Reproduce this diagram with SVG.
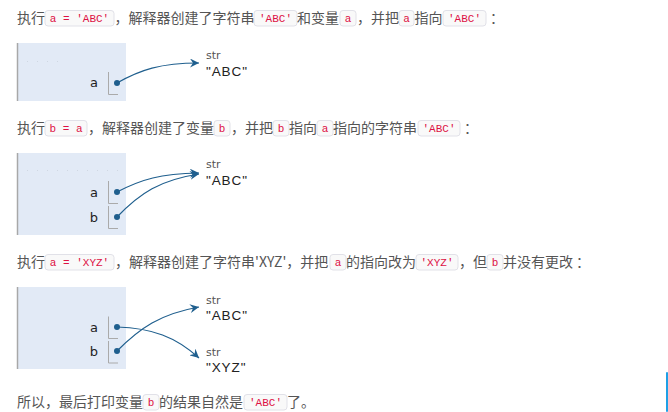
<svg xmlns="http://www.w3.org/2000/svg" width="668" height="412" viewBox="0 0 668 412">
<style>
.t{font-family:"Noto Sans CJK SC","Noto Sans",sans-serif;font-size:14px;fill:#555}
.cb{fill:#f9f9f9;stroke:#e1e1e8;stroke-width:1}
.c{font-family:"Liberation Mono",monospace;font-size:11px;fill:#dd1144;text-anchor:middle}
.panel{fill:#e2eaf6}
.pl{stroke:#a8a8a8;stroke-width:1.5}
.dots{stroke:#cfd7e2;stroke-width:1;stroke-dasharray:1 9}
.br{fill:none;stroke:#aaaaaa;stroke-width:1}
.lbl{font-family:"DejaVu Sans",sans-serif;font-size:13px;fill:#222;text-anchor:end}
.typ{font-family:"DejaVu Sans",sans-serif;font-size:11px;fill:#555}
.val{font-family:"Liberation Sans",Arial,sans-serif;font-size:13.5px;letter-spacing:0.9px;fill:#222}
.dot{fill:#1f5f8e}
.ar{fill:none;stroke:#1f5f8e;stroke-width:1.2;marker-end:url(#ah)}
</style>
<defs>
<marker id="ah" markerUnits="userSpaceOnUse" markerWidth="10" markerHeight="9" refX="9" refY="4.5" orient="auto" viewBox="0 0 10 9">
<path d="M0,0 L9,4.5 L0,9 L3,4.5 Z" fill="#1f5f8e"/>
</marker>
</defs>

<g id="line1">
<rect class="cb" x="45" y="10.5" width="69" height="15.5" rx="3"/>
<rect class="cb" x="254" y="10.5" width="43" height="15.5" rx="3"/>
<rect class="cb" x="340" y="10.5" width="16" height="15.5" rx="3"/>
<rect class="cb" x="399" y="10.5" width="15" height="15.5" rx="3"/>
<rect class="cb" x="443" y="10.5" width="43" height="15.5" rx="3"/>
<text class="c" y="22"><tspan x="79.5">a = 'ABC'</tspan><tspan x="275.5">'ABC'</tspan><tspan x="348">a</tspan><tspan x="406.5">a</tspan><tspan x="464.5">'ABC'</tspan></text>
<text class="t" y="23"><tspan x="17">执行</tspan><tspan x="114.5">，解释器创建了字符串</tspan><tspan x="297">和变量</tspan><tspan x="357">，并把</tspan><tspan x="414.5">指向</tspan><tspan x="490">：</tspan></text>
</g>

<g id="frame1">
<rect class="panel" x="17" y="43" width="109" height="58"/>
<line class="pl" x1="17.5" y1="43" x2="17.5" y2="101"/>
<line class="dots" x1="27" y1="61.5" x2="62" y2="61.5"/>
<text class="lbl" x="98" y="87">a</text>
<path class="br" d="M108.5,72 V94.5 H118"/>
<circle class="dot" cx="117" cy="83" r="3"/>
</g>
<g id="str1">
<text class="typ" x="206" y="59">str</text>
<text class="val" x="206" y="76">"ABC"</text>
</g>

<g id="line2">
<rect class="cb" x="45" y="120.5" width="42" height="15.5" rx="3"/>
<rect class="cb" x="214" y="120.5" width="16" height="15.5" rx="3"/>
<rect class="cb" x="273" y="120.5" width="16" height="15.5" rx="3"/>
<rect class="cb" x="317" y="120.5" width="16" height="15.5" rx="3"/>
<rect class="cb" x="418" y="120.5" width="42" height="15.5" rx="3"/>
<text class="c" y="132"><tspan x="66">b = a</tspan><tspan x="222">b</tspan><tspan x="281">b</tspan><tspan x="325">a</tspan><tspan x="439">'ABC'</tspan></text>
<text class="t" y="133"><tspan x="17">执行</tspan><tspan x="88">，解释器创建了变量</tspan><tspan x="231">，并把</tspan><tspan x="289">指向</tspan><tspan x="333">指向的字符串</tspan><tspan x="464">：</tspan></text>
</g>

<g id="frame2">
<rect class="panel" x="17" y="153" width="109" height="82"/>
<line class="pl" x1="17.5" y1="153" x2="17.5" y2="235"/>
<line class="dots" x1="27" y1="170.5" x2="120" y2="170.5"/>
<text class="lbl" x="98" y="197">a</text>
<text class="lbl" x="98" y="222">b</text>
<path class="br" d="M108.5,181 V203.5 H118"/>
<path class="br" d="M108.5,206 V228.5 H118"/>
<circle class="dot" cx="117" cy="192" r="3"/>
<circle class="dot" cx="117" cy="217" r="3"/>
</g>
<g id="str2">
<text class="typ" x="206" y="168">str</text>
<text class="val" x="206" y="185">"ABC"</text>
</g>

<g id="line3">
<rect class="cb" x="45" y="254.5" width="69" height="15.5" rx="3"/>
<rect class="cb" x="330" y="254.5" width="16" height="15.5" rx="3"/>
<rect class="cb" x="416" y="254.5" width="42" height="15.5" rx="3"/>
<rect class="cb" x="487" y="254.5" width="16" height="15.5" rx="3"/>
<text class="c" y="266"><tspan x="79.5">a = 'XYZ'</tspan><tspan x="338">a</tspan><tspan x="437">'XYZ'</tspan><tspan x="495">b</tspan></text>
<text class="t" y="267"><tspan x="17">执行</tspan><tspan x="115">，解释器创建了字符串'XYZ'，并把</tspan><tspan x="346">的指向改为</tspan><tspan x="459">，但</tspan><tspan x="503">并没有更改</tspan><tspan x="576">：</tspan></text>
</g>

<g id="frame3">
<rect class="panel" x="17" y="287" width="109" height="82"/>
<line class="pl" x1="17.5" y1="287" x2="17.5" y2="369"/>
<text class="lbl" x="98" y="332">a</text>
<text class="lbl" x="98" y="356">b</text>
<path class="br" d="M108.5,316.5 V338.5 H118"/>
<path class="br" d="M108.5,341 V363 H118"/>
<circle class="dot" cx="117" cy="327" r="3"/>
<circle class="dot" cx="117" cy="351" r="3"/>
</g>
<g id="str3a">
<text class="typ" x="206" y="304">str</text>
<text class="val" x="206" y="320">"ABC"</text>
</g>
<g id="str3b">
<text class="typ" x="206" y="356">str</text>
<text class="val" x="206" y="372">"XYZ"</text>
</g>

<g id="connectors">
<path class="ar" d="M117,83 C140,70 160,63 199,63"/>
<path class="ar" d="M117,192 C142,179 160,174 199,173"/>
<path class="ar" d="M117,217 C140,193 160,180 199,174"/>
<path class="ar" d="M117,351 C140,328 160,314 199,307"/>
<path class="ar" d="M117,327 C152,328 176,337 199,358"/>
</g>

<g id="line4">
<rect class="cb" x="143" y="394.5" width="16" height="15.5" rx="3"/>
<rect class="cb" x="244" y="394.5" width="43" height="15.5" rx="3"/>
<text class="c" y="406"><tspan x="151">b</tspan><tspan x="265.5">'ABC'</tspan></text>
<text class="t" y="407"><tspan x="17">所以，最后打印变量</tspan><tspan x="159">的结果自然是</tspan><tspan x="287">了。</tspan></text>
</g>

<rect x="666" y="372" width="2" height="40" rx="1" fill="#1ea0e6"/>
</svg>
